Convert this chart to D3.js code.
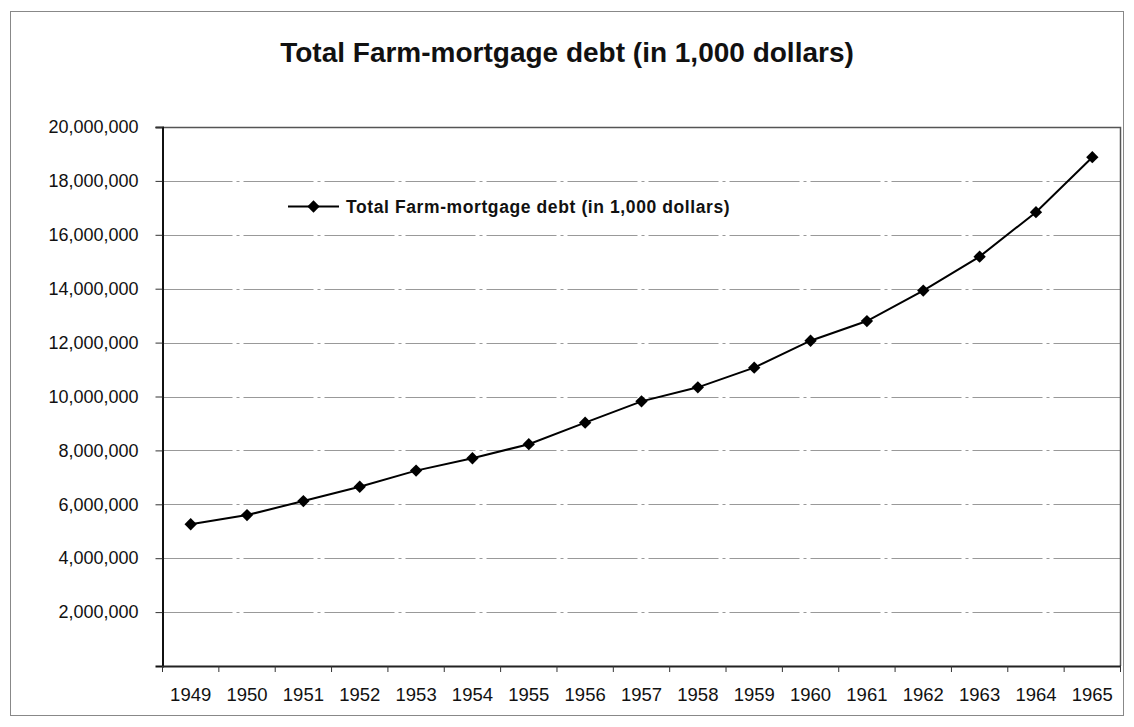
<!DOCTYPE html>
<html>
<head>
<meta charset="utf-8">
<script src="https://cdn.jsdelivr.net/npm/d3@7"></script>
<style>
  body { margin: 0; background: #fff; }
  svg { display: block; font-family: "Liberation Sans", Arial, sans-serif; }
</style>
</head>
<body>
<svg id="chart"></svg>
<script>
// data (values in 1,000 dollars)
var years = ['1949', '1950', '1951', '1952', '1953', '1954', '1955', '1956', '1957',
  '1958', '1959', '1960', '1961', '1962', '1963', '1964', '1965'];
var debt = [5260000, 5600000, 6120000, 6650000, 7250000, 7710000, 8230000, 9030000, 9820000,
  10340000, 11070000, 12070000, 12800000, 13930000, 15190000, 16840000, 18880000];
var yTicks = [2000000, 4000000, 6000000, 8000000, 10000000, 12000000, 14000000,
  16000000, 18000000, 20000000];
var title = 'Total Farm-mortgage debt (in 1,000 dollars)';
var seriesName = 'Total Farm-mortgage debt (in 1,000 dollars)';

var width = 1134;
var height = 727;

// plot area
var plotLeft = 162.5, plotRight = 1120.5, plotTop = 127, plotBottom = 666;

var svg = d3.select('#chart')
  .attr('width', width)
  .attr('height', height);

// outer chart frame
svg.append('rect')
  .attr('x', 10.5).attr('y', 11.5)
  .attr('width', 1113).attr('height', 704)
  .attr('fill', 'none')
  .attr('stroke', '#888')
  .attr('stroke-width', 1);

var x = d3.scaleBand()
  .domain(years)
  .range([plotLeft, plotRight]);

var y = d3.scaleLinear()
  .domain([0, 20000000])
  .range([plotBottom, plotTop]);

// gridlines (scanned look: light gray, slightly broken)
svg.append('g')
  .selectAll('line')
  .data(yTicks.slice(0, -1))
  .enter().append('line')
  .attr('x1', plotLeft).attr('x2', plotRight)
  .attr('y1', function(d) { return Math.round(y(d)) + 0.5; })
  .attr('y2', function(d) { return Math.round(y(d)) + 0.5; })
  .attr('stroke', '#999')
  .attr('stroke-dasharray', '70,4,3,4')
  .attr('stroke-width', 1);

// plot border (top + right)
svg.append('path')
  .attr('d', 'M' + plotLeft + ',' + (plotTop + 0.5) + 'H' + plotRight + 'V' + plotBottom)
  .attr('fill', 'none')
  .attr('stroke', '#555')
  .attr('stroke-width', 1.5);

// y axis
var yAxis = d3.axisLeft(y)
  .tickValues(yTicks)
  .tickSize(7)
  .tickPadding(17)
  .tickFormat(d3.format(','));

var gy = svg.append('g')
  .attr('transform', 'translate(' + plotLeft + ',0)')
  .call(yAxis);
gy.select('.domain').attr('stroke', '#111').attr('stroke-width', 2);
gy.selectAll('.tick line').attr('stroke', '#333');
gy.selectAll('.tick text')
  .attr('fill', '#111')
  .style('font-size', '18px')
  .style('font-family', '"Liberation Sans", Arial, sans-serif');

// x axis: labels at band centers, ticks at band edges
var xAxis = d3.axisBottom(x)
  .tickSize(0)
  .tickPadding(22);

var gx = svg.append('g')
  .attr('transform', 'translate(0,' + plotBottom + ')')
  .call(xAxis);
gx.select('.domain').attr('stroke', '#222').attr('stroke-width', 2);
gx.selectAll('.tick text')
  .attr('fill', '#111')
  .style('font-size', '18.5px')
  .style('font-family', '"Liberation Sans", Arial, sans-serif');

var edges = years.map(function(d) { return x(d); }).concat([plotRight]);
svg.append('g')
  .selectAll('line')
  .data(edges)
  .enter().append('line')
  .attr('x1', function(d) { return d; })
  .attr('x2', function(d) { return d; })
  .attr('y1', plotBottom)
  .attr('y2', plotBottom + 6)
  .attr('stroke', '#333');

// series line
var pts = years.map(function(d, i) { return { year: d, value: debt[i] }; });

var line = d3.line()
  .x(function(d) { return x(d.year) + x.bandwidth() / 2; })
  .y(function(d) { return y(d.value); });

svg.append('path')
  .datum(pts)
  .attr('d', line)
  .attr('fill', 'none')
  .attr('stroke', '#000')
  .attr('stroke-width', 2);

var diamond = d3.symbol().type(d3.symbolSquare).size(76);

svg.append('g')
  .selectAll('path')
  .data(pts)
  .enter().append('path')
  .attr('d', diamond)
  .attr('transform', function(d) {
    return 'translate(' + (x(d.year) + x.bandwidth() / 2) + ',' + y(d.value) + ') rotate(45)';
  })
  .attr('fill', '#000');

// legend
var legY = 206.5;
svg.append('line')
  .attr('x1', 288).attr('x2', 339)
  .attr('y1', legY).attr('y2', legY)
  .attr('stroke', '#000')
  .attr('stroke-width', 2);
svg.append('path')
  .attr('d', diamond)
  .attr('transform', 'translate(313.5,' + legY + ') rotate(45)')
  .attr('fill', '#000');
svg.append('text')
  .attr('x', 346)
  .attr('y', legY + 6.5)
  .attr('font-size', '17.5px')
  .attr('font-weight', 'bold')
  .attr('letter-spacing', '0.6px')
  .attr('fill', '#111')
  .text(seriesName);

// title
svg.append('text')
  .attr('x', 567)
  .attr('y', 62)
  .attr('text-anchor', 'middle')
  .attr('font-size', '28px')
  .attr('font-weight', 'bold')
  .attr('fill', '#111')
  .text(title);
</script>
</body>
</html>
